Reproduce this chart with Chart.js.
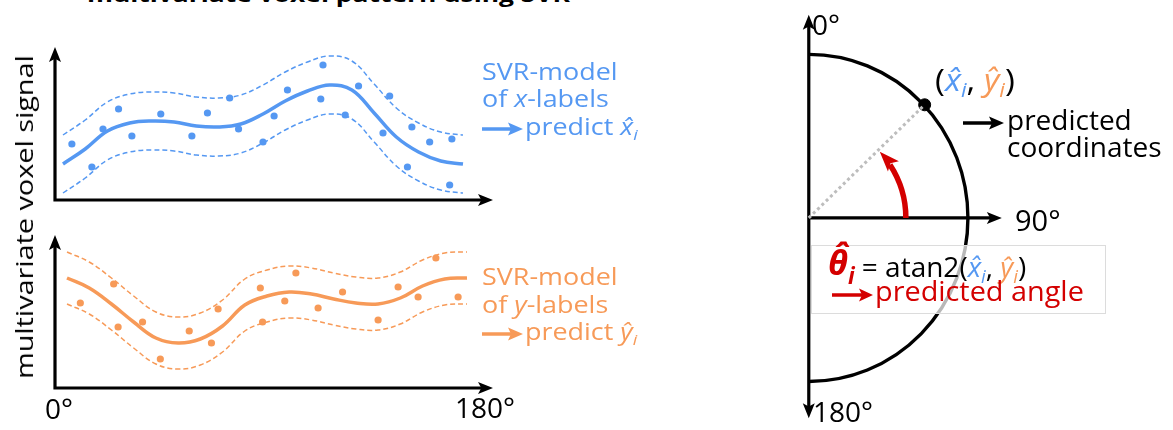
<!DOCTYPE html>
<html><head><meta charset="utf-8">
<script src="https://cdn.jsdelivr.net/npm/chart.js@4.4.1/dist/chart.umd.min.js"></script>
<style>
html,body{margin:0;padding:0;background:#fff}
body{width:1173px;height:430px;overflow:hidden;position:relative;font-family:'Open Sans','Noto Sans',sans-serif}
canvas{position:absolute}
.t{position:absolute;white-space:nowrap;line-height:1;transform-origin:0 0}
.lg{font-size:23px;font-weight:500;transform:scaleX(1.17)}
.sb{position:relative;top:0.3em;font-size:0.66em;font-style:italic}
.blue{color:#5598f2}.orange{color:#f79a58}.red{color:#d40000}
svg.ar{position:absolute;overflow:visible}
</style></head>
<body>
<canvas id="cx" width="480" height="190" style="left:35px;top:30px"></canvas>
<canvas id="cy" width="480" height="190" style="left:35px;top:220px"></canvas>
<canvas id="cp" width="240" height="430" style="left:783px;top:0px"></canvas>

<!-- title (cut off at top) -->
<div class="t" style="left:87px;top:-18px;font-size:22px;font-weight:700;color:#000;transform:scaleX(1.2)">multivariate voxel pattern using SVR</div>

<!-- y axis label -->
<div class="t" style="left:24px;top:217px;font-size:24px;font-weight:500;transform-origin:50% 50%;transform:translate(-50%,-50%) rotate(-90deg) scaleX(1.2);line-height:24px">multivariate voxel signal</div>

<!-- x tick labels -->
<div class="t" style="left:45px;top:394px;font-size:28px">0°</div>
<div class="t" style="left:455px;top:393px;font-size:28px">180°</div>

<!-- blue legend -->
<div class="t lg blue" style="left:482px;top:60px">SVR-model</div>
<div class="t lg blue" style="left:482px;top:87px">of <i>x</i>-labels</div>
<svg class="ar" style="left:482px;top:129px" width="1" height="1"><line x1="0" y1="0" x2="30" y2="0" stroke="#5598f2" stroke-width="3.5"/><path d="M41,0 L26,-6.5 L29,0 L26,6.5 Z" fill="#5598f2"/></svg>
<div class="t lg blue" style="left:525px;top:115px">predict <i>x&#770;</i><span class="sb">i</span></div>

<!-- orange legend -->
<div class="t lg orange" style="left:482px;top:265px">SVR-model</div>
<div class="t lg orange" style="left:482px;top:293px">of <i>y</i>-labels</div>
<svg class="ar" style="left:482px;top:334px" width="1" height="1"><line x1="0" y1="0" x2="30" y2="0" stroke="#f79a58" stroke-width="3.5"/><path d="M41,0 L26,-6.5 L29,0 L26,6.5 Z" fill="#f79a58"/></svg>
<div class="t lg orange" style="left:525px;top:320px">predict <i>y&#770;</i><span class="sb">i</span></div>

<!-- polar labels -->
<div class="t" style="left:812px;top:10px;font-size:28px">0°</div>
<div class="t" style="left:1015px;top:205px;font-size:29px">90°</div>
<div class="t" style="left:813px;top:397px;font-size:28px">180°</div>
<div class="t" style="left:935px;top:64px;font-size:31px;transform:scaleX(1.08)">(<i class="blue">x&#770;</i><span class="sb blue">i</span>, <i class="orange">y&#770;</i><span class="sb orange">i</span>)</div>
<svg class="ar" style="left:963px;top:123px" width="1" height="1"><line x1="0" y1="0" x2="30" y2="0" stroke="#000" stroke-width="3.5"/><path d="M41,0 L26,-6.5 L29,0 L26,6.5 Z" fill="#000"/></svg>
<div class="t" style="left:1007px;top:105px;font-size:28px">predicted</div>
<div class="t" style="left:1007px;top:132px;font-size:28px">coordinates</div>

<div style="position:absolute;left:811px;top:245px;width:293px;height:67px;background:rgba(255,255,255,0.72);border:1px solid #dcdcdc"></div>
<div class="t" style="left:828px;top:247px;font-size:28px"><b class="red" style="font-size:34px;position:relative;top:-2px"><i>θ&#770;</i></b><span class="sb red" style="font-weight:700;font-size:0.8em">i</span> = atan2(<i class="blue">x&#770;</i><span class="sb blue">i</span>, <i class="orange">y&#770;</i><span class="sb orange">i</span>)</div>
<svg class="ar" style="left:832px;top:295px" width="1" height="1"><line x1="0" y1="0" x2="30" y2="0" stroke="#d40000" stroke-width="3.5"/><path d="M41,0 L27,-6.5 L30,0 L27,6.5 Z" fill="#d40000"/></svg>
<div class="t red" style="left:875px;top:276px;font-size:28px;transform:scaleX(1.03)">predicted angle</div>

<script>
// ---------- data ----------
const angleDeg = [0,10,20,30,40,50,60,70,80,90,100,110,120,130,140,150,160,170,180];

const xModelMean  = [3.6,5.1,6.9,7.7,7.9,7.8,7.4,7.3,7.6,8.6,9.9,10.9,11.5,11.0,8.7,6.3,4.8,3.9,3.6];
const xModelUpper = [6.5,8.0,9.8,10.6,10.8,10.7,10.3,10.2,10.5,11.5,12.8,13.8,14.4,13.9,11.6,9.2,7.7,6.8,6.5];
const xModelLower = [0.7,2.2,4.0,4.8,5.0,4.9,4.5,4.4,4.7,5.7,7.0,8.0,8.6,8.1,5.8,3.4,1.9,1.0,0.7];
const xSampleDeg    = [4,13,18,25,31,44,58,65,75,79,90,95,101,116,117,127,133,144,147,155,157,165,174,175];
const xSampleSignal = [5.6,3.3,7.1,9.1,6.4,8.6,6.4,8.7,10.2,7.1,5.8,8.4,11.0,10.1,13.5,8.5,11.4,6.7,10.4,3.3,7.3,5.8,1.5,6.1];

const yModelMean  = [11.0,10.0,8.4,6.6,5.0,4.5,4.9,6.2,8.3,9.2,9.6,9.4,8.9,8.5,8.4,9.0,10.2,10.9,11.0];
const yModelUpper = [13.6,12.6,11.0,9.2,7.6,7.1,7.5,8.8,10.9,11.8,12.2,12.0,11.5,11.1,11.0,11.6,12.8,13.5,13.6];
const yModelLower = [8.4,7.4,5.8,4.0,2.4,1.9,2.3,3.6,5.7,6.6,7.0,6.8,6.3,5.9,5.8,6.4,7.6,8.3,8.4];
const ySampleDeg    = [6,21,23,34,42,55,65,68,87,88,98,103,113,124,140,149,158,166,176];
const ySampleSignal = [8.5,10.4,6.1,6.6,2.9,5.7,4.5,7.9,10.0,6.6,8.7,11.5,8.0,9.6,6.8,10.1,9.1,13.0,9.1];

const predictedCoord = [0.728, 0.692];   // (x-hat, y-hat) on unit circle
const predictedAngleDeg = 43;            // red arrow sweep

// ---------- helpers ----------
const BLUE = '#5598f2', ORANGE = '#f79a58', RED = '#d40000';
function arrowHead(ctx, x, y, dir, len, half){
  ctx.save(); ctx.translate(x,y); ctx.rotate(dir);
  ctx.beginPath(); ctx.moveTo(0,0); ctx.lineTo(-len,-half); ctx.lineTo(-len*0.78,0); ctx.lineTo(-len,half); ctx.closePath(); ctx.fill();
  ctx.restore();
}
const pts = (xs, ys) => xs.map((x,i)=>({x, y: ys[i]}));

const axesPlugin = {
  id:'axesArrows',
  beforeDatasetsDraw(chart){
    const {ctx, chartArea:a} = chart;
    ctx.save(); ctx.strokeStyle='#000'; ctx.fillStyle='#000'; ctx.lineWidth=3.2; ctx.lineCap='butt';
    ctx.beginPath(); ctx.moveTo(a.left, a.top+10); ctx.lineTo(a.left, a.bottom); ctx.lineTo(a.right-10, a.bottom); ctx.stroke();
    arrowHead(ctx, a.left, a.top, -Math.PI/2, 15, 6);
    arrowHead(ctx, a.right, a.bottom, 0, 15, 6);
    ctx.restore();
  }
};

function waveChart(id, color, mean, upper, lower, sx, sy, xmin, xmax, pad){
  return new Chart(document.getElementById(id), {
    type:'scatter',
    data:{ datasets:[
      {data:pts(angleDeg, upper), showLine:true, borderColor:color, borderWidth:1.5, borderDash:[5,3], pointRadius:0, tension:0.4, fill:false},
      {data:pts(angleDeg, lower), showLine:true, borderColor:color, borderWidth:1.5, borderDash:[5,3], pointRadius:0, tension:0.4, fill:false},
      {data:pts(angleDeg, mean), showLine:true, borderColor:color, borderWidth:3.5, pointRadius:0, tension:0.4, fill:false},
      {data:pts(sx, sy), showLine:false, pointRadius:3.6, backgroundColor:color, borderColor:color, pointBackgroundColor:color, pointBorderWidth:0}
    ]},
    options:{
      responsive:false, animation:false, clip:false,
      layout:{padding:pad},
      plugins:{legend:{display:false}, tooltip:{enabled:false}},
      scales:{ x:{type:'linear', min:xmin, max:xmax, display:false}, y:{min:0, max:15.3, display:false} },
      events:[]
    },
    plugins:[axesPlugin]
  });
}

waveChart('cx', BLUE, xModelMean, xModelUpper, xModelLower, xSampleDeg, xSampleSignal, -3.6, 193.5, {left:20, top:17, right:22, bottom:20});
waveChart('cy', ORANGE, yModelMean, yModelUpper, yModelLower, ySampleDeg, ySampleSignal, -5.4, 191.7, {left:20, top:15, right:22, bottom:22});

// ---------- polar diagram ----------
const polarPlugin = {
  id:'polarFrame',
  beforeDatasetsDraw(chart){
    const ctx = chart.ctx, xs = chart.scales.x, ys = chart.scales.y;
    const cx = xs.getPixelForValue(0), cy = ys.getPixelForValue(0);
    const rx = xs.getPixelForValue(1) - cx, ry = cy - ys.getPixelForValue(1);
    ctx.save(); ctx.strokeStyle='#000'; ctx.fillStyle='#000'; ctx.lineWidth=3.4;
    ctx.beginPath(); ctx.ellipse(cx, cy, rx, ry, 0, -Math.PI/2, Math.PI/2); ctx.stroke();
    const yTop = ys.getPixelForValue(1.243), yBot = ys.getPixelForValue(-1.225), xRight = xs.getPixelForValue(1.213);
    ctx.lineWidth=3.2;
    ctx.beginPath(); ctx.moveTo(cx, yTop+10); ctx.lineTo(cx, yBot-10); ctx.stroke();
    arrowHead(ctx, cx, yTop, -Math.PI/2, 15, 6);
    arrowHead(ctx, cx, yBot, Math.PI/2, 15, 6);
    ctx.beginPath(); ctx.moveTo(cx, cy); ctx.lineTo(xRight-10, cy); ctx.stroke();
    arrowHead(ctx, xRight, cy, 0, 15, 6);
    ctx.restore();
  },
  afterDatasetsDraw(chart){
    const ctx = chart.ctx, xs = chart.scales.x, ys = chart.scales.y;
    const cx = xs.getPixelForValue(0), cy = ys.getPixelForValue(0);
    const r = (xs.getPixelForValue(1) - cx) * 0.61;
    const end = predictedAngleDeg * Math.PI/180;
    const arcEnd = end - 0.17;
    ctx.save(); ctx.strokeStyle=RED; ctx.fillStyle=RED; ctx.lineWidth=5.5;
    ctx.beginPath(); ctx.arc(cx, cy, r, 0, -arcEnd, true); ctx.stroke();
    const tx = cx + r*Math.cos(end), ty = cy - r*Math.sin(end);
    const dir = Math.atan2(-Math.cos(end), -Math.sin(end));
    arrowHead(ctx, tx, ty, dir, 20, 7.5);
    ctx.restore();
  }
};

new Chart(document.getElementById('cp'), {
  type:'scatter',
  data:{ datasets:[
    {data:[{x:0,y:0},{x:predictedCoord[0], y:predictedCoord[1]}], showLine:true, borderColor:'#bdbdbd', borderWidth:3, borderDash:[3,3], pointRadius:0},
    {data:[{x:predictedCoord[0], y:predictedCoord[1]}], pointRadius:6, backgroundColor:'#000', borderColor:'#000', pointBackgroundColor:'#000', pointBorderColor:'#000', pointBorderWidth:1}
  ]},
  options:{
    responsive:false, animation:false, clip:false,
    layout:{padding:0},
    plugins:{legend:{display:false}, tooltip:{enabled:false}},
    scales:{ x:{type:'linear', min:-0.118, max:1.302, display:false}, y:{min:-1.254, max:1.290, display:false} },
    events:[]
  },
  plugins:[polarPlugin]
});
</script>
</body></html>
